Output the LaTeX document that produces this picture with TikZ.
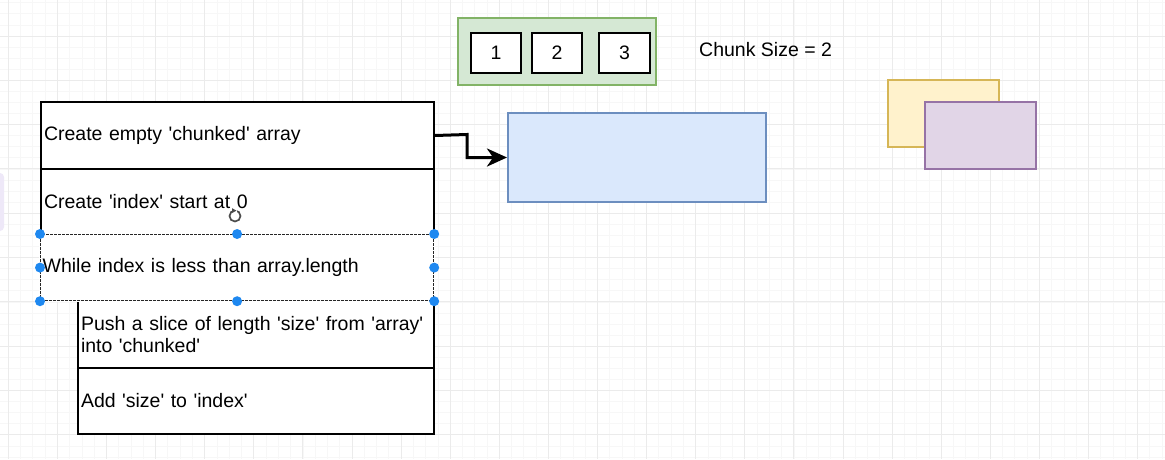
\documentclass[tikz,border=0pt]{standalone}
\usepackage{fontspec}
\setmainfont{Liberation Sans}[Ligatures=TeXOff]
\usetikzlibrary{arrows.meta,calc}
\definecolor{gfill}{HTML}{D5E8D4}\definecolor{gline}{HTML}{82B366}
\definecolor{bfill}{HTML}{DAE8FC}\definecolor{bline}{HTML}{6C8EBF}
\definecolor{yfill}{HTML}{FFF2CC}\definecolor{yline}{HTML}{D6B656}
\definecolor{pfill}{HTML}{E1D5E7}\definecolor{pline}{HTML}{9673A6}
\definecolor{handle}{HTML}{1E88F0}
\definecolor{majgrid}{HTML}{EBEBEB}\definecolor{mingrid}{HTML}{F7F7F7}
\definecolor{lav}{HTML}{EEE8F8}
\tikzset{
  stepbox/.style={draw=black, line width=2pt, fill=white, anchor=north west, inner xsep=3pt, inner ysep=0pt, align=left, font=\fontsize{19.5}{22}\selectfont},
  numbox/.style={draw=black, line width=2pt, fill=white, anchor=north west, font=\fontsize{19.5}{22}\selectfont, inner sep=0pt},
  colbox/.style={line width=2pt, anchor=north west, inner sep=0pt},
  hdl/.style={circle, fill=handle, inner sep=0pt, minimum size=10pt},
  lbl/.style={font=\fontsize{19.5}{22}\selectfont, inner sep=0pt}
}
\begin{document}
\begin{tikzpicture}[x=1pt,y=-1pt]
\useasboundingbox (0,0) rectangle (1165,459);
\fill[white] (0,0) rectangle (1165,459);
% grid
\foreach \i in {-1,...,95} {\draw[mingrid, line width=0.8pt] ({8.3+12.275*\i},0) -- ({8.3+12.275*\i},459);}
\foreach \i in {-4,...,40} {\draw[mingrid, line width=0.8pt] (0,{36+11.08*\i}) -- (1165,{36+11.08*\i});}
\foreach \i in {0,...,23} {\draw[majgrid, line width=1pt] ({8.3+49.1*\i},0) -- ({8.3+49.1*\i},459);}
\foreach \i in {0,...,9} {\draw[majgrid, line width=1pt] (0,{36+44.33*\i}) -- (1165,{36+44.33*\i});}
% partial lavender shape at left edge
\fill[lav, rounded corners=4pt] (-10,173) rectangle (4,231);

% array boxes
\node[colbox, draw=gline, fill=gfill, minimum width=198pt, minimum height=67pt] (arr) at (457,17) {};
\node[numbox, minimum width=50pt, minimum height=40pt] (n1) at (470,32) {1};
\node[numbox, minimum width=50pt, minimum height=40pt] (n2) at (531,32) {2};
\node[numbox, minimum width=51pt, minimum height=40pt] (n3) at (598,32) {3};
\node[lbl, anchor=west] (chunk) at (699,50) {Chunk Size = 2};

% colored boxes
\node[colbox, draw=bline, fill=bfill, minimum width=258pt, minimum height=89pt] (blue) at (507,112) {};
\node[colbox, draw=yline, fill=yfill, minimum width=111pt, minimum height=67pt] (yel) at (887,79) {};
\node[colbox, draw=pline, fill=pfill, minimum width=111pt, minimum height=67pt] (pur) at (924,101) {};

% steps
\node[stepbox, minimum width=393pt, minimum height=67pt, text width=387pt] (s1) at (40,101) {Create empty 'chunked' array};
\node[stepbox, minimum width=393pt, minimum height=66pt, text width=387pt] (s2) at (40,168) {Create 'index' start at 0};
\node[stepbox, minimum width=356pt, minimum height=67pt, text width=350pt] (s4) at (77,300) {Push a slice of length 'size' from 'array'\\into 'chunked'};
\node[stepbox, minimum width=356pt, minimum height=66pt, text width=350pt] (s5) at (77,367) {Add 'size' to 'index'};
\fill[white] (38.5,232.5) rectangle (434.5,301.5);
\node[stepbox, draw=black!85, line width=1.2pt, dash pattern=on 3pt off 1pt, minimum width=393pt, minimum height=66pt, text width=389pt, inner xsep=2pt] (s3) at (40,234) {While index is less than array.length};

% selection handles
\foreach \a in {north west,north,north east,west,east,south west,south,south east} {\node[hdl] at (s3.\a) {};}

% rotation icon
\node[circle, draw=black!70, line width=1.7pt, minimum size=11pt, inner sep=0pt] (rot) at (235,216) {};
\fill[white] (233.5,208.5) rectangle (236.5,212.5);
\fill[black!70] (232,208.2) -- (236.5,210.6) -- (232,213) -- cycle;

% connector
\coordinate (bend) at (467,134.5);
\draw[black, line width=3pt, -{Stealth[length=20pt,width=18pt,inset=6pt]}] (s1.east) -- (bend) |- (blue.west);
\end{tikzpicture}
\end{document}
